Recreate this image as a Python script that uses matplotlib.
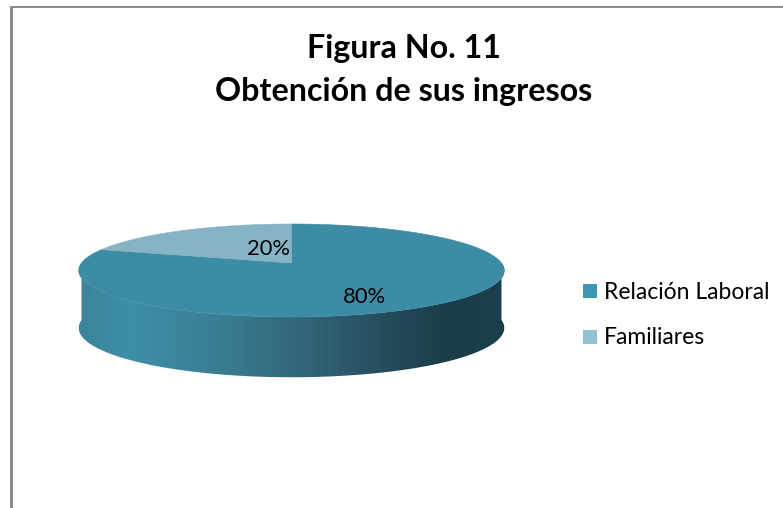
import numpy as np
import matplotlib
matplotlib.use("Agg")
import matplotlib.pyplot as plt
from matplotlib.patches import Polygon, Rectangle
from matplotlib.colors import LinearSegmentedColormap

categories = ["Relación Laboral", "Familiares"]
values = [80, 20]
value_labels = ["80%", "20%"]
title_lines = ["Figura No. 11", "Obtención de sus ingresos"]

plt.rcParams["font.family"] = ["Lato", "DejaVu Sans"]
W, H = 783, 508
fig = plt.figure(figsize=(W / 100, H / 100), dpi=100, facecolor="white")
ax = fig.add_axes([0, 0, 1, 1])
ax.set_xlim(0, W)
ax.set_ylim(H, 0)
ax.axis("off")

TOP = "#3d8ca5"
LIGHT = "#86b4c5"
LEG_DARK = "#4096b0"
LEG_LIGHT = "#93c1d4"
FRAME = "#8c8c8c"

# chart frame (open on right and bottom)
ax.add_patch(Rectangle((10, 6), W - 10, 2, fc=FRAME, ec="none"))
ax.add_patch(Rectangle((10, 6), 3, H - 6, fc=FRAME, ec="none"))

# perspective projection of the pie disc
cx, cy = 291.5, 263.0
ax_x, ax_y, persp = 210.0, 45.3, 0.161
depth = 57.0


def project(t, y_scale=1.0):
    x, y = np.cos(t), np.sin(t)
    w = 1 + persp * y
    return cx + ax_x * x / w, cy - y_scale * ax_y * y / w


# side wall with horizontal gradient
t_front = np.linspace(np.pi, 2 * np.pi, 361)
xt, yt = project(t_front)
xb, yb = project(t_front, 1.06)
wall = np.column_stack([np.r_[xt, xb[::-1]], np.r_[yt, (yb + depth)[::-1]]])
wall_patch = Polygon(wall, closed=True, fc="none", ec="none")
ax.add_patch(wall_patch)
cmap = LinearSegmentedColormap.from_list(
    "wall",
    [(0.0, "#3a8399"), (0.12, "#3e8fa9"), (0.3, "#3a8096"), (0.5, "#33697c"),
     (0.7, "#264f5f"), (0.86, "#1b3d4a"), (1.0, "#1b3f4c")],
)
img = ax.imshow(
    np.linspace(0, 1, 256).reshape(1, -1), cmap=cmap, aspect="auto",
    extent=(xt.min(), xt.max(), H, 0), zorder=2,
)
img.set_clip_path(wall_patch)
ax.set_xlim(0, W)
ax.set_ylim(H, 0)

# top disc: slices follow the values, clockwise from twelve o'clock
fractions = np.array(values, dtype=float) / sum(values)
edges = np.pi / 2 - 2 * np.pi * np.r_[0, np.cumsum(fractions)]
for start, end, colour in zip(edges[:-1], edges[1:], [TOP, LIGHT]):
    t = np.linspace(start, end, 400)
    x, y = project(t)
    ax.add_patch(Polygon(np.column_stack([np.r_[cx, x], np.r_[cy, y]]),
                         closed=True, fc=colour, ec=colour, lw=0.4, zorder=3))

# value labels
ax.text(364.5, 303, value_labels[0], fontsize=15.8, ha="center", va="baseline", color="black", zorder=5)
ax.text(269, 255, value_labels[1], fontsize=15.8, ha="center", va="baseline", color="black", zorder=5)

# title
ax.text(404, 58, title_lines[0], fontsize=23.2, fontweight="bold", ha="center", va="baseline", color="black")
ax.text(404, 101, title_lines[1], fontsize=23.2, fontweight="bold", ha="center", va="baseline", color="black")

# legend
for name, colour, ytop, base in zip(categories, [LEG_DARK, LEG_LIGHT], [284, 330], [299, 344]):
    ax.add_patch(Rectangle((583, ytop), 14, 14, fc=colour, ec="none"))
    ax.text(604, base, name, fontsize=16.5, ha="left", va="baseline", color="black")

fig.savefig("out.png", dpi=100)
